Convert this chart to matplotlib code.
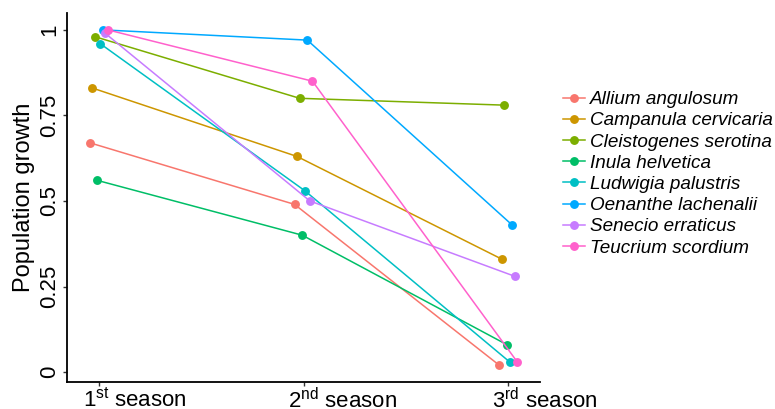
import numpy as np
import matplotlib
matplotlib.use("Agg")
from matplotlib import pyplot as plt
from matplotlib import transforms

plt.rcParams['font.family'] = ['Liberation Sans', 'DejaVu Sans']
plt.rcParams['mathtext.fontset'] = 'custom'
plt.rcParams['mathtext.rm'] = 'Liberation Sans'
plt.rcParams['mathtext.it'] = 'Liberation Sans:italic'

# sezone i vrste
sezone = ["1$^{\\mathrm{st}}$ season", "2$^{\\mathrm{nd}}$ season", "3$^{\\mathrm{rd}}$ season"]
vrste = ["Allium angulosum", "Campanula cervicaria", "Cleistogenes serotina",
         "Inula helvetica", "Ludwigia palustris", "Oenanthe lachenalii",
         "Senecio erraticus", "Teucrium scordium"]

allium = [0.67, 0.49, 0.02]
campanula = [0.83, 0.63, 0.33]
cleistogenes = [0.98, 0.80, 0.78]
inula = [0.56, 0.40, 0.08]
ludwigia = [0.96, 0.53, 0.03]
oenanthe = [1.00, 0.97, 0.43]
senecio = [0.99, 0.50, 0.28]
teucrium = [1.00, 0.85, 0.03]
rast = [allium, campanula, cleistogenes, inula, ludwigia, oenanthe, senecio, teucrium]

boje = ["#F8766D", "#CD9600", "#7CAE00", "#00BE67",
        "#00BFC4", "#00A9FF", "#C77CFF", "#FF61CC"]

fig = plt.figure(figsize=(7.75, 4.09), dpi=100)
ax = fig.add_axes([0.0865, 0.066, 0.6105, 0.902])

x = np.arange(1, len(sezone) + 1)
n = len(vrste)
for g, (ime, y, c) in enumerate(zip(vrste, rast, boje)):
    pomeraj = (g - (n - 1) / 2) * 0.1 / n  # dodge kao u ggplot-u
    ax.plot(x + pomeraj, y, color=c, lw=1.1, marker='o', ms=6.4,
            markeredgewidth=0, label=ime)

ax.set_xlim(0.845, 3.156)
ax.set_ylim(-0.029, 1.049)

for s in ['top', 'right']:
    ax.spines[s].set_visible(False)
for s in ['left', 'bottom']:
    ax.spines[s].set_linewidth(1.3)
    ax.spines[s].set_color('black')
ax.tick_params(axis='both', length=3, width=1, color='#333333', pad=2)
ax.tick_params(axis='x', pad=1)

ax.set_xticks(x)
ax.set_xticklabels(sezone, fontsize=16, color='black', ha='left')
# natpis pocinje malo levo od podeoka
pomak = transforms.ScaledTranslation(-16 / 100, 0, fig.dpi_scale_trans)
for lbl in ax.get_xticklabels():
    lbl.set_transform(lbl.get_transform() + pomak)
ax.set_yticks([0, 0.25, 0.5, 0.75, 1])
ax.set_yticklabels(["0", "0.25", "0.5", "0.75", "1"], fontsize=16,
                   rotation=90, va='center', color='black')
ax.set_ylabel("Population growth", fontsize=17, labelpad=3)

leg = fig.legend(loc='center left', bbox_to_anchor=(0.726, 0.575),
                 frameon=False, fontsize=13.6, handlelength=1.2,
                 handletextpad=0.25, labelspacing=0.21,
                 borderpad=0, borderaxespad=0)
for t in leg.get_texts():
    t.set_fontstyle('italic')

fig.savefig("out.png", dpi=100)
